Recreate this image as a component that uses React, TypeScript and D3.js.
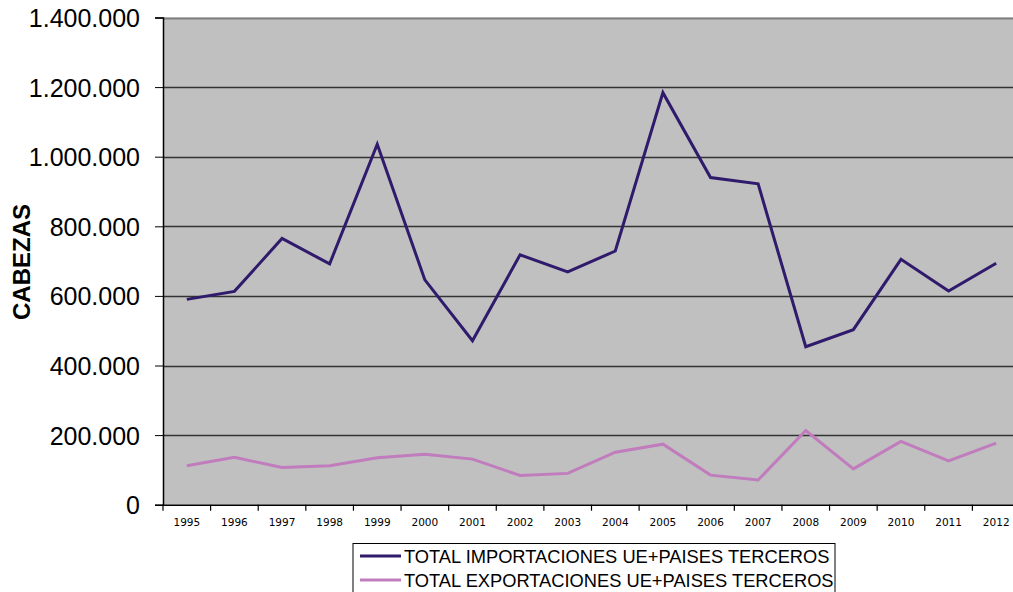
import { useEffect, useRef } from "react";
import * as d3 from "d3";

const years = ["1995", "1996", "1997", "1998", "1999", "2000", "2001", "2002", "2003", "2004", "2005", "2006", "2007", "2008", "2009", "2010", "2011", "2012"];
const importaciones = [590000, 613000, 765000, 692000, 1036000, 646000, 471000, 718000, 669000, 729000, 1184000, 940000, 922000, 454000, 503000, 705000, 614000, 694000];
const exportaciones = [112000, 136000, 107000, 112000, 135000, 145000, 131000, 84000, 90000, 151000, 174000, 85000, 71000, 213000, 103000, 182000, 126000, 177000];
const yTicks = [0, 200000, 400000, 600000, 800000, 1000000, 1200000, 1400000];

const seriesNames = ["TOTAL IMPORTACIONES UE+PAISES TERCEROS", "TOTAL EXPORTACIONES UE+PAISES TERCEROS"];
const colors = ["#2f1a6c", "#c07cbd"];

const fmt = (v: number) => (v === 0 ? "0" : d3.format(",")(v).replace(/,/g, "."));

export default function App() {
  const svgRef = useRef<SVGSVGElement>(null);

  useEffect(() => {
    const width = 1013;
    const height = 592;
    const left = 163;
    const top = 17.5;
    const plotW = 857;
    const bottom = 504.7;

    const svg = d3.select(svgRef.current);
    svg.selectAll("*").remove();

    const x = d3.scaleBand().domain(years).range([left, left + plotW]);
    const y = d3.scaleLinear().domain([0, 1400000]).range([bottom, top]);

    // plot background
    svg.append("rect")
      .attr("x", left).attr("y", top)
      .attr("width", plotW).attr("height", bottom - top)
      .attr("fill", "#c0c0c0");

    // grid
    svg.append("g")
      .selectAll("line")
      .data(yTicks.filter(t => t > 0))
      .enter()
      .append("line")
      .attr("x1", left).attr("x2", left + plotW)
      .attr("y1", d => Math.round(y(d)) + 0.5)
      .attr("y2", d => Math.round(y(d)) + 0.5)
      .attr("stroke", d => (d === 1400000 ? "#808080" : "#333"))
      .attr("stroke-width", d => (d === 1400000 ? 2 : 1.3));

    // y axis
    const yAxis = svg.append("g")
      .attr("transform", `translate(${left},0)`)
      .call(d3.axisLeft(y).tickValues(yTicks).tickSize(8).tickFormat(d => fmt(+d)));
    yAxis.select(".domain").attr("stroke", "#000").attr("stroke-width", 1.5);
    yAxis.selectAll(".tick line").attr("stroke", "#000");
    yAxis.selectAll("text")
      .attr("font-family", "Liberation Sans, Arial, sans-serif")
      .attr("font-size", 25)
      .attr("fill", "#000")
      .attr("x", -23)
      .attr("dy", "0.36em");

    // x axis
    const xAxis = svg.append("g")
      .attr("transform", `translate(0,${bottom})`)
      .call(d3.axisBottom(x).tickSize(0).tickSizeOuter(0));
    xAxis.select(".domain").attr("stroke", "#000").attr("stroke-width", 1.5);
    xAxis.selectAll("text")
      .attr("font-family", "DejaVu Sans, Verdana, sans-serif")
      .attr("font-size", 10.5)
      .attr("fill", "#000")
      .attr("y", 14)
      .attr("dy", "0.71em");
    svg.append("g")
      .selectAll("line")
      .data(years)
      .enter()
      .append("line")
      .attr("x1", d => x(d)!).attr("x2", d => x(d)!)
      .attr("y1", bottom).attr("y2", bottom + 6)
      .attr("stroke", "#000").attr("stroke-width", 1.2);

    // lines
    const line = d3.line<number>()
      .x((_, i) => x(years[i])! + x.bandwidth() / 2)
      .y(d => y(d));

    [importaciones, exportaciones].forEach((s, i) => {
      svg.append("path")
        .datum(s)
        .attr("fill", "none")
        .attr("stroke", colors[i])
        .attr("stroke-width", 3)
        .attr("stroke-linejoin", "miter")
        .attr("d", line);
    });

    // y title
    svg.append("text")
      .attr("transform", "translate(30,262) rotate(-90)")
      .attr("text-anchor", "middle")
      .attr("font-family", "Liberation Sans, Arial, sans-serif")
      .attr("font-weight", "bold")
      .attr("font-size", 24)
      .attr("fill", "#000")
      .text("CABEZAS");

    // legend
    const lg = svg.append("g");
    lg.append("rect")
      .attr("x", 353).attr("y", 543.5)
      .attr("width", 482).attr("height", 60)
      .attr("fill", "#fff")
      .attr("stroke", "#000")
      .attr("stroke-width", 1);
    seriesNames.forEach((name, i) => {
      const cy = 556 + i * 24;
      lg.append("line")
        .attr("x1", 360).attr("x2", 401)
        .attr("y1", cy).attr("y2", cy)
        .attr("stroke", colors[i])
        .attr("stroke-width", 3);
      lg.append("text")
        .attr("x", 404)
        .attr("y", cy)
        .attr("dy", "0.36em")
        .attr("font-family", "Liberation Sans, Arial, sans-serif")
        .attr("font-size", 18.3)
        .attr("fill", "#000")
        .text(name);
    });

    svg.attr("width", width).attr("height", height);
  }, []);

  return (
    <svg
      ref={svgRef}
      width={1013}
      height={592}
      style={{ position: "absolute", left: 0, top: 0, background: "#fff" }}
    />
  );
}
